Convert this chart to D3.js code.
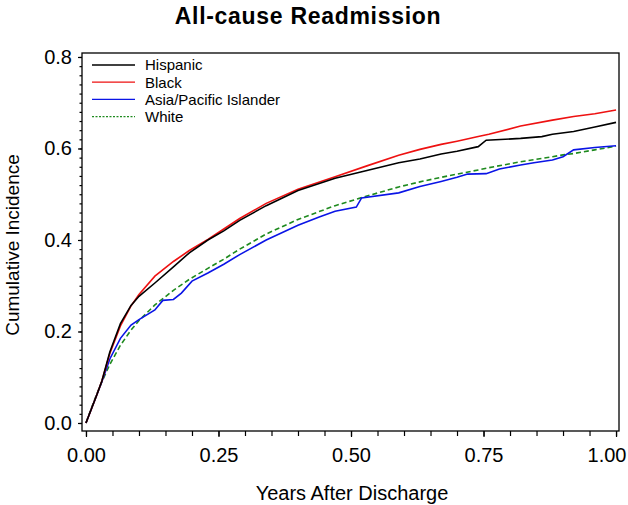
<!DOCTYPE html>
<html>
<head>
<meta charset="utf-8">
<script src="https://cdn.jsdelivr.net/npm/d3@7"></script>
<style>
	body { margin: 0; background: #fff; }
	svg { display: block; font-family: "Liberation Sans", Arial, sans-serif; }
</style>
</head>
<body>
<svg id="chart" width="628" height="505"></svg>
<script>
// values: [years, cumulative incidence]
var hispanic = [[0,0],[0.01,0.03],[0.02,0.06],[0.03,0.092],[0.045,0.155],[0.065,0.217],[0.085,0.257],[0.10,0.277],
	[0.13,0.306],[0.165,0.341],[0.195,0.372],[0.23,0.400],[0.26,0.420],[0.29,0.443],[0.34,0.475],[0.40,0.508],
	[0.47,0.535],[0.53,0.552],[0.59,0.569],[0.63,0.577],[0.67,0.588],[0.70,0.594],[0.74,0.604],[0.755,0.618],
	[0.82,0.622],[0.86,0.626],[0.88,0.631],[0.92,0.637],[0.96,0.647],[1.0,0.657]];

var black = [[0,0],[0.01,0.03],[0.02,0.06],[0.03,0.092],[0.045,0.152],[0.065,0.212],[0.085,0.256],[0.10,0.281],
	[0.13,0.321],[0.165,0.353],[0.195,0.377],[0.23,0.401],[0.26,0.424],[0.29,0.447],[0.34,0.480],[0.40,0.511],
	[0.47,0.538],[0.53,0.562],[0.59,0.585],[0.63,0.598],[0.67,0.609],[0.70,0.616],[0.74,0.626],[0.76,0.631],
	[0.82,0.649],[0.88,0.662],[0.92,0.670],[0.96,0.676],[1.0,0.684]];

var asian = [[0,0],[0.01,0.03],[0.02,0.06],[0.03,0.09],[0.045,0.14],[0.065,0.185],[0.085,0.214],[0.10,0.226],
	[0.13,0.247],[0.145,0.268],[0.165,0.270],[0.18,0.284],[0.20,0.31],[0.23,0.328],[0.26,0.347],[0.29,0.368],
	[0.34,0.400],[0.40,0.432],[0.44,0.450],[0.47,0.463],[0.51,0.472],[0.52,0.492],[0.59,0.503],[0.63,0.517],
	[0.67,0.528],[0.70,0.537],[0.72,0.544],[0.755,0.545],[0.78,0.555],[0.82,0.564],[0.845,0.569],[0.88,0.575],
	[0.90,0.582],[0.92,0.597],[0.96,0.602],[1.0,0.606]];

var white = [[0,0],[0.01,0.032],[0.02,0.062],[0.03,0.09],[0.045,0.128],[0.065,0.170],[0.085,0.203],[0.10,0.224],
	[0.13,0.258],[0.165,0.290],[0.195,0.314],[0.23,0.338],[0.26,0.358],[0.29,0.380],[0.34,0.413],[0.40,0.445],
	[0.47,0.475],[0.53,0.496],[0.59,0.516],[0.63,0.527],[0.67,0.537],[0.70,0.544],[0.74,0.553],[0.76,0.558],
	[0.82,0.571],[0.88,0.582],[0.90,0.586],[0.92,0.589],[0.96,0.597],[1.0,0.605]];

var seriesNames = ['Hispanic', 'Black', 'Asia/Pacific Islander', 'White'];
var xTicks = [0, 0.25, 0.5, 0.75, 1];
var yTicks = [0, 0.2, 0.4, 0.6, 0.8];

(function(){
	var series = [
		{name: seriesNames[0], values: hispanic, color: '#000000', dash: null, legendDash: null},
		{name: seriesNames[1], values: black, color: '#ee1111', dash: null, legendDash: null},
		{name: seriesNames[2], values: asian, color: '#0a14e6', dash: null, legendDash: null},
		{name: seriesNames[3], values: white, color: '#1e8a1e', dash: '5,3', legendDash: '2,1.5'}
	];

	var svg = d3.select('#chart'),
		plotLeft = 82, plotRight = 619, plotTop = 53, plotBottom = 431;

	var x = d3.scaleLinear().domain([-0.0075, 1.0056]).range([plotLeft, plotRight]);
	var y = d3.scaleLinear().domain([-0.0175, 0.8087]).range([plotBottom, plotTop]);

	// title
	svg.append('text')
		.attr('x', 308).attr('y', 24)
		.attr('text-anchor', 'middle')
		.style('font-size', '23px').style('font-weight', 'bold')
		.style('letter-spacing', '0.7px')
		.text('All-cause Readmission');

	// minor ticks
	var xMinor = d3.range(0, 1.0001, 0.05);
	var yMinor = d3.range(0, 0.8001, 0.02);

	svg.append('g')
		.attr('transform', 'translate(0,' + plotBottom + ')')
		.call(d3.axisBottom(x).tickValues(xMinor).tickSize(5).tickFormat(''))
		.call(function(g){ g.select('.domain').remove(); });

	svg.append('g')
		.attr('transform', 'translate(' + plotLeft + ',0)')
		.call(d3.axisLeft(y).tickValues(yMinor).tickSize(2.5).tickFormat(''))
		.call(function(g){ g.select('.domain').remove(); });

	// major ticks with labels
	var xAxis = svg.append('g')
		.attr('transform', 'translate(0,' + plotBottom + ')')
		.call(d3.axisBottom(x).tickValues(xTicks).tickSize(6).tickPadding(11).tickFormat(d3.format('.2f')));
	xAxis.select('.domain').remove();
	xAxis.selectAll('text').style('font-size', '20px').attr('fill', '#000');
	// last label is pulled in so it stays on the page
	xAxis.selectAll('.tick').filter(function(d){ return d === 1; }).select('text')
		.attr('text-anchor', 'end').attr('x', 626 - x(1));

	var yAxis = svg.append('g')
		.attr('transform', 'translate(' + plotLeft + ',0)')
		.call(d3.axisLeft(y).tickValues(yTicks).tickSize(4).tickPadding(6).tickFormat(d3.format('.1f')));
	yAxis.select('.domain').remove();
	yAxis.selectAll('text').style('font-size', '20px').attr('fill', '#000');

	svg.selectAll('.tick line').attr('stroke', '#000').attr('stroke-width', 1.2);

	// frame
	svg.append('rect')
		.attr('x', plotLeft).attr('y', plotTop)
		.attr('width', plotRight - plotLeft).attr('height', plotBottom - plotTop)
		.attr('fill', 'none').attr('stroke', '#000').attr('stroke-width', 1.3);

	// axis titles
	svg.append('text')
		.attr('x', 352).attr('y', 500)
		.attr('text-anchor', 'middle')
		.style('font-size', '20px')
		.text('Years After Discharge');

	svg.append('text')
		.attr('transform', 'translate(18.5,245) rotate(-90)')
		.attr('text-anchor', 'middle')
		.style('font-size', '19px')
		.text('Cumulative Incidence');

	// curves
	var line = d3.line()
		.x(function(d){ return x(d[0]); })
		.y(function(d){ return y(d[1]); });

	svg.append('g').selectAll('path')
		.data(series.slice().reverse())
		.enter()
		.append('path')
		.attr('d', function(s){ return line(s.values); })
		.attr('fill', 'none')
		.attr('stroke', function(s){ return s.color; })
		.attr('stroke-width', 1.6)
		.attr('stroke-dasharray', function(s){ return s.dash; });

	// legend
	var legend = svg.append('g').selectAll('g')
		.data(series)
		.enter()
		.append('g')
		.attr('transform', function(s, i){ return 'translate(0,' + (65 + i * 17.2) + ')'; });

	legend.append('line')
		.attr('x1', 92).attr('x2', 135)
		.attr('stroke', function(s){ return s.color; })
		.attr('stroke-width', 1.3)
		.attr('stroke-dasharray', function(s){ return s.legendDash; });

	legend.append('text')
		.attr('x', 145).attr('dy', '0.36em')
		.style('font-size', '15px')
		.text(function(s){ return s.name; });
})();
</script>
</body>
</html>
